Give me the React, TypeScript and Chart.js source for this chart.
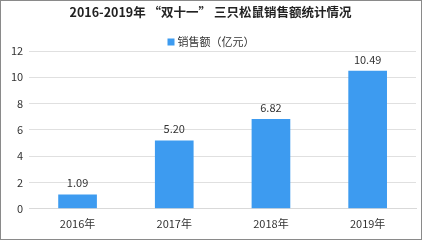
import React, { useEffect, useRef } from "react";
import { Chart, registerables } from "chart.js";

Chart.register(...registerables);

const categories = ["2016年", "2017年", "2018年", "2019年"];
const sales = [1.09, 5.2, 6.82, 10.49];
const seriesName = "销售额（亿元）";
const titleText = "2016-2019年 “双十一” 三只松鼠销售额统计情况";

const FONT = "'Noto Sans CJK SC', 'Noto Sans', sans-serif";
const BAR_COLOR = "#3D9BF0";

const valueLabels = {
  id: "valueLabels",
  afterDatasetsDraw(chart: any) {
    const ctx = chart.ctx;
    const meta = chart.getDatasetMeta(0);
    ctx.save();
    ctx.font = `11px ${FONT}`;
    ctx.fillStyle = "#333333";
    ctx.textAlign = "center";
    ctx.textBaseline = "bottom";
    meta.data.forEach((bar: any, i: number) => {
      ctx.fillText(sales[i].toFixed(2), bar.x, bar.y - 6);
    });
    ctx.restore();
  },
};

const customLegend = {
  id: "customLegend",
  afterDraw(chart: any) {
    const ctx = chart.ctx;
    ctx.save();
    ctx.font = `11px ${FONT}`;
    const tw = ctx.measureText(seriesName).width;
    const total = 7 + 3 + tw;
    const x0 = (chart.width - total) / 2;
    const yc = 41;
    ctx.fillStyle = BAR_COLOR;
    ctx.fillRect(x0, yc - 3.5, 7, 7);
    ctx.fillStyle = "#333333";
    ctx.textAlign = "left";
    ctx.textBaseline = "middle";
    ctx.fillText(seriesName, x0 + 10, yc);
    ctx.restore();
  },
};

export default function App() {
  const ref = useRef<HTMLCanvasElement>(null);
  useEffect(() => {
    const chart = new Chart(ref.current!, {
      type: "bar",
      data: {
        labels: categories,
        datasets: [
          {
            label: seriesName,
            data: sales,
            backgroundColor: BAR_COLOR,
            barPercentage: 0.8,
            categoryPercentage: 0.5,
          },
        ],
      },
      options: {
        animation: false,
        responsive: false,
        maintainAspectRatio: false,
        layout: { padding: { left: 4, right: 5, top: 3, bottom: 9 } },
        plugins: {
          title: {
            display: true,
            text: titleText,
            color: "#222222",
            font: { family: FONT, size: 12.5, weight: "bold" },
            padding: { top: 1, bottom: 31 },
          },
          legend: { display: false },
          tooltip: { enabled: false },
        },
        scales: {
          x: {
            grid: { display: false },
            border: { color: "#d9d9d9" },
            ticks: { color: "#333333", font: { family: FONT, size: 11 }, padding: 0 },
          },
          y: {
            min: 0,
            max: 12,
            ticks: { stepSize: 2, color: "#333333", font: { family: FONT, size: 11 }, padding: 6 },
            grid: { color: "#e0e0e0", drawTicks: false },
            border: { display: false },
          },
        },
      },
      plugins: [valueLabels, customLegend],
    });
    return () => chart.destroy();
  }, []);
  return (
    <div
      style={{
        position: "fixed",
        left: 0,
        top: 0,
        width: 422,
        height: 240,
        boxSizing: "border-box",
        border: "1px solid #8a8a8a",
        background: "#fff",
      }}
    >
      <canvas ref={ref} width={420} height={238} />
    </div>
  );
}
